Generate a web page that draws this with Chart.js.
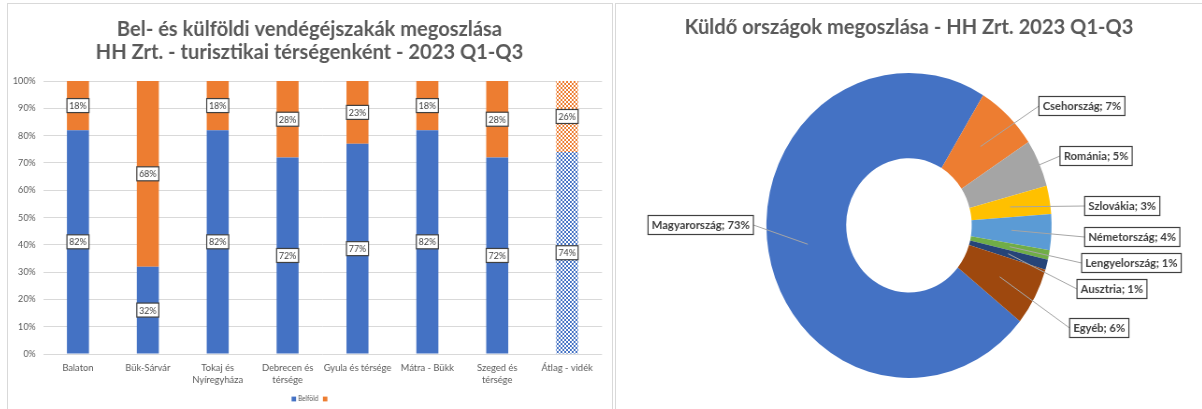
<!DOCTYPE html>
<html><head><meta charset="utf-8">
<script src="https://cdn.jsdelivr.net/npm/chart.js@4"></script>
<style>
html,body{margin:0;padding:0;background:#fff;width:1202px;height:409px;overflow:hidden;}
.panel{position:absolute;box-sizing:border-box;border:1px solid #d9d9d9;background:#fff;}
.squish{position:absolute;transform:scaleX(0.935);transform-origin:0 0;}
canvas{display:block;}
</style></head><body>
<div class="panel" style="left:7px;top:3px;width:606px;height:420px;"></div>
<div class="panel" style="left:615px;top:3px;width:600px;height:420px;"></div>
<div class="squish" style="left:7px;top:3px;"><canvas id="bar" width="647" height="406"></canvas></div>
<div class="squish" style="left:615px;top:3px;"><canvas id="pie" width="629" height="406"></canvas></div>
<script>
// ---------- data ----------
const regions = ['Balaton', 'Bük-Sárvár', ['Tokaj és', 'Nyíregyháza'], ['Debrecen és', 'térsége'], 'Gyula és térsége', 'Mátra - Bükk', ['Szeged és', 'térsége'], 'Átlag - vidék'];
const domestic = [82, 32, 82, 72, 77, 82, 72, 74];
const foreign = [18, 68, 18, 28, 23, 18, 28, 26];
const seriesNames = ['Belföld', ''];
const yTickValues = [0, 10, 20, 30, 40, 50, 60, 70, 80, 90, 100];
const barTitle = ['Bel- és külföldi vendégéjszakák megoszlása', 'HH Zrt. - turisztikai térségenként - 2023 Q1-Q3'];

const countries = ['Magyarország', 'Csehország', 'Románia', 'Szlovákia', 'Németország', 'Lengyelország', 'Ausztria', 'Egyéb'];
const shares = [72.9, 7.1, 5.0, 3.0, 3.8, 1.0, 1.1, 6.1];
const pieTitle = 'Küldő országok megoszlása - HH Zrt. 2023 Q1-Q3';

// ---------- styling ----------
const FONT = 'Lato';
const BLUE = '#4472C4', ORANGE = '#ED7D31';
const pieColors = ['#4472C4', '#ED7D31', '#A5A5A5', '#FFC000', '#5B9BD5', '#70AD47', '#264478', '#9E480E'];
// callout box placement relative to doughnut centre (layout only)
const calloutPos = [[-166.4, -0.4], [139, -119.4], [161.5, -69.4], [187.9, -19.4], [187.9, 11.6], [184.7, 37.6], [179.7, 63.6], [171.8, 102.6]];

Chart.defaults.font.family = FONT;
Chart.defaults.color = '#595959';

function checker(color) {
  const c = document.createElement('canvas');
  c.width = 4; c.height = 4;
  const g = c.getContext('2d');
  g.fillStyle = '#fff'; g.fillRect(0, 0, 4, 4);
  g.fillStyle = color; g.fillRect(0, 0, 2, 2); g.fillRect(2, 2, 2, 2);
  return g.createPattern(c, 'repeat');
}
const bctx = document.getElementById('bar').getContext('2d');
const blueFill = domestic.map((v, i) => i === domestic.length - 1 ? checker(BLUE) : BLUE);
const orangeFill = foreign.map((v, i) => i === foreign.length - 1 ? checker(ORANGE) : ORANGE);

const barDecor = {
  id: 'barDecor',
  afterDatasetsDraw(chart) {
    const ctx = chart.ctx;
    chart.data.datasets.forEach((ds, di) => {
      const meta = chart.getDatasetMeta(di);
      meta.data.forEach((bar, i) => {
        const p = bar.getProps(['x', 'y', 'base', 'width'], true);
        const cy = (p.y + p.base) / 2, h = 14, w = p.width;
        ctx.save();
        ctx.fillStyle = '#fff';
        ctx.fillRect(p.x - w / 2, cy - h / 2, w, h);
        ctx.strokeStyle = '#404040'; ctx.lineWidth = 1.2;
        ctx.strokeRect(p.x - w / 2, cy - h / 2, w, h);
        ctx.fillStyle = '#404040';
        ctx.font = '9.5px ' + FONT;
        ctx.textAlign = 'center'; ctx.textBaseline = 'middle';
        ctx.fillText(ds.data[i] + '%', p.x, cy + 0.5);
        ctx.restore();
      });
    });
  },
  afterDraw(chart) {
    const ctx = chart.ctx, W = chart.width;
    ctx.save();
    ctx.fillStyle = '#595959';
    ctx.font = 'bold 21.5px ' + FONT;
    ctx.textAlign = 'center'; ctx.textBaseline = 'middle';
    ctx.fillText(barTitle[0], W / 2, 26);
    ctx.fillText(barTitle[1], W / 2, 49);
    // legend
    ctx.font = '7px ' + FONT;
    const tw = ctx.measureText(seriesNames[0]).width;
    const box = 4.8, gap = 2, sep = 5;
    const total = box + gap + tw + sep + box;
    let x = W / 2 - total / 2;
    const y = 396;
    ctx.fillStyle = BLUE; ctx.fillRect(x, y - box / 2, box, box);
    x += box + gap;
    ctx.fillStyle = '#595959'; ctx.textAlign = 'left';
    ctx.fillText(seriesNames[0], x, y);
    x += tw + sep;
    ctx.fillStyle = ORANGE; ctx.fillRect(x, y - box / 2, box, box);
    ctx.restore();
  }
};

new Chart(bctx, {
  type: 'bar',
  data: {
    labels: regions,
    datasets: [
      { label: seriesNames[0], data: domestic, backgroundColor: blueFill, barPercentage: 0.315, categoryPercentage: 1 },
      { label: seriesNames[1], data: foreign, backgroundColor: orangeFill, barPercentage: 0.315, categoryPercentage: 1 }
    ]
  },
  options: {
    responsive: false, animation: false,
    layout: { padding: { left: 0, top: 78, right: 10.6, bottom: 23 } },
    scales: {
      x: {
        stacked: true,
        grid: { display: false, drawTicks: false },
        border: { display: false },
        ticks: { font: { size: 10 }, color: '#595959', padding: 8, autoSkip: false, maxRotation: 0 },
        afterFit(s) { s.height = 32; }
      },
      y: {
        stacked: true, min: 0, max: 100,
        afterBuildTicks(s) { s.ticks = yTickValues.map(v => ({ value: v })); },
        ticks: { callback: v => v + '%', font: { size: 9.5 }, color: '#595959', padding: 8 },
        grid: { color: '#d9d9d9', drawTicks: false, lineWidth: 1 },
        border: { display: false },
        afterFit(s) { s.width = 38.5; }
      }
    },
    plugins: { legend: { display: false }, tooltip: { enabled: false }, title: { display: false } }
  },
  plugins: [barDecor]
});

const pieDecor = {
  id: 'pieDecor',
  afterDatasetsDraw(chart) {
    const ctx = chart.ctx;
    const meta = chart.getDatasetMeta(0);
    ctx.save();
    ctx.font = 'bold 12px ' + FONT;
    const boxes = meta.data.map((arc, i) => {
      const text = countries[i] + '; ' + Math.round(shares[i]) + '%';
      const w = ctx.measureText(text).width + 8, h = 19;
      const dx = calloutPos[i][0], dy = calloutPos[i][1];
      const left = dx < 0 ? arc.x + dx - w : arc.x + dx;
      const cy = arc.y + dy;
      return { text, w, h, left, cy, anchorX: dx < 0 ? left + w : left, arc };
    });
    ctx.strokeStyle = '#a6a6a6'; ctx.lineWidth = 1;
    boxes.forEach(b => {
      const c = b.arc.getCenterPoint(true);
      ctx.beginPath(); ctx.moveTo(c.x, c.y); ctx.lineTo(b.anchorX, b.cy); ctx.stroke();
    });
    boxes.forEach(b => {
      ctx.fillStyle = '#fff';
      ctx.fillRect(b.left, b.cy - b.h / 2, b.w, b.h);
      ctx.strokeStyle = '#404040'; ctx.lineWidth = 1.2;
      ctx.strokeRect(b.left, b.cy - b.h / 2, b.w, b.h);
      ctx.fillStyle = '#404040';
      ctx.textAlign = 'center'; ctx.textBaseline = 'middle';
      ctx.fillText(b.text, b.left + b.w / 2, b.cy + 0.5);
    });
    ctx.restore();
  },
  afterDraw(chart) {
    const ctx = chart.ctx;
    ctx.save();
    ctx.fillStyle = '#595959';
    ctx.font = 'bold 21.5px ' + FONT;
    ctx.textAlign = 'center'; ctx.textBaseline = 'middle';
    ctx.fillText(pieTitle, chart.width / 2, 24);
    ctx.restore();
  }
};

new Chart(document.getElementById('pie').getContext('2d'), {
  type: 'doughnut',
  data: { labels: countries, datasets: [{ data: shares, backgroundColor: pieColors, borderWidth: 0 }] },
  options: {
    responsive: false, animation: false,
    rotation: 128.9, cutout: '44%',
    layout: { padding: { left: 161.9, top: 69.9, right: 162.1, bottom: 31.1 } },
    plugins: { legend: { display: false }, tooltip: { enabled: false }, title: { display: false } }
  },
  plugins: [pieDecor]
});
</script>
</body></html>
